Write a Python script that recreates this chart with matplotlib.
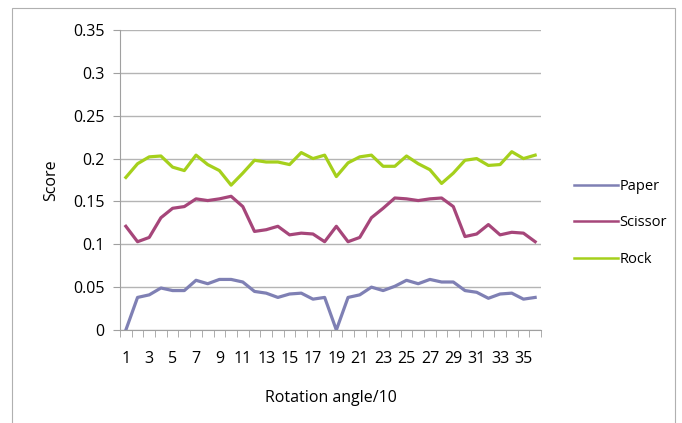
import matplotlib
matplotlib.use("Agg")
import matplotlib.pyplot as plt
from matplotlib.patches import Rectangle
import numpy as np

plt.rcParams['font.family'] = ['Open Sans', 'DejaVu Sans']

angles = list(range(1, 37))
paper = [0.0, 0.038, 0.041, 0.049, 0.046, 0.046, 0.058, 0.054, 0.059, 0.059, 0.056, 0.045,
         0.043, 0.038, 0.042, 0.043, 0.036, 0.038, 0.0, 0.038, 0.041, 0.050, 0.046, 0.051,
         0.058, 0.054, 0.059, 0.056, 0.056, 0.046, 0.044, 0.037, 0.042, 0.043, 0.036, 0.038]
scissor = [0.121, 0.103, 0.108, 0.131, 0.142, 0.144, 0.153, 0.151, 0.153, 0.156, 0.144, 0.115,
           0.117, 0.121, 0.111, 0.113, 0.112, 0.103, 0.121, 0.103, 0.108, 0.131, 0.142, 0.154,
           0.153, 0.151, 0.153, 0.154, 0.144, 0.109, 0.112, 0.123, 0.111, 0.114, 0.113, 0.103]
rock = [0.178, 0.194, 0.202, 0.203, 0.190, 0.186, 0.204, 0.193, 0.186, 0.169, 0.183, 0.198,
        0.196, 0.196, 0.193, 0.207, 0.200, 0.204, 0.179, 0.195, 0.202, 0.204, 0.191, 0.191,
        0.203, 0.194, 0.187, 0.171, 0.183, 0.198, 0.200, 0.192, 0.193, 0.208, 0.200, 0.204]
series_names = ["Paper", "Scissor", "Rock"]
colors = ["#7f80b4", "#a6467a", "#a5d01c"]
yticks = [0, 0.05, 0.1, 0.15, 0.2, 0.25, 0.3, 0.35]
ytick_labels = ["0", "0.05", "0.1", "0.15", "0.2", "0.25", "0.3", "0.35"]

fig = plt.figure(figsize=(6.82, 4.23), dpi=100)
# chart border like the spreadsheet frame
fig.patches.append(Rectangle((12/682, -0.05), 663/682, 1 - 8/423 + 0.05,
                             transform=fig.transFigure, fill=False,
                             edgecolor="#b0b0b0", linewidth=0.8))

ax = fig.add_axes([120/682, 1 - 330/423, 421/682, 300/423])
x = np.arange(len(angles))
for vals, name, c in zip([paper, scissor, rock], series_names, colors):
    ax.plot(x, vals, color=c, linewidth=2.3, label=name, solid_joinstyle='round')

ax.set_xlim(-0.5, len(angles) - 0.5)
ax.set_ylim(0, 0.35)
ax.set_yticks(yticks)
ax.set_yticklabels(ytick_labels, fontsize=11.5)
ax.set_xticks(x[::2])
ax.set_xticklabels([str(a) for a in angles[::2]], fontsize=11.5)
ax.set_xticks(np.arange(-0.5, len(angles), 1), minor=True)
ax.tick_params(axis='x', which='major', length=0, pad=15)
ax.tick_params(axis='x', which='minor', length=5, color="#a0a0a0", direction='out')
ax.tick_params(axis='y', length=5, color="#a0a0a0", direction='out', pad=6)
ax.grid(axis='y', color="#b4b4b4", linewidth=1)
ax.set_axisbelow(True)
for s in ["top", "right"]:
    ax.spines[s].set_visible(False)
for s in ["left", "bottom"]:
    ax.spines[s].set_color("#a0a0a0")
ax.set_xlabel("Rotation angle/10", fontsize=11.5, labelpad=17)
ax.set_ylabel("Score", fontsize=11.5, labelpad=10)

leg = ax.legend(loc="center left", bbox_to_anchor=((561 - 120) / 421, (330 - 223) / 300),
                frameon=False, fontsize=10.5, handlelength=3.0, handletextpad=0.1,
                labelspacing=1.45)
for h in leg.get_lines():
    h.set_linewidth(1.8)

fig.savefig("out.png", dpi=100)
